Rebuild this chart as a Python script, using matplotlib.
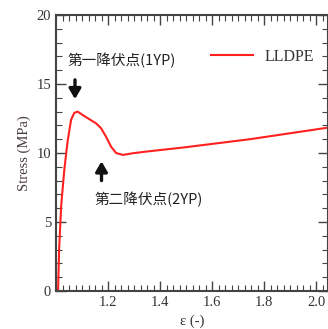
import matplotlib
matplotlib.use("Agg")
import matplotlib.pyplot as plt
from matplotlib.ticker import MultipleLocator

# strain / stress
strain = [1.008, 1.012, 1.020, 1.032, 1.045, 1.058, 1.070, 1.083, 1.103, 1.128,
          1.154, 1.173, 1.192, 1.212, 1.231, 1.257, 1.295, 1.346, 1.49, 1.746, 2.05]
stress = [0.0, 3.0, 6.2, 8.8, 10.9, 12.4, 12.9, 13.0, 12.75, 12.45,
          12.15, 11.8, 11.2, 10.45, 10.0, 9.86, 9.98, 10.1, 10.4, 11.0, 11.85]
series_name = "LLDPE"
label_1yp = "第一降伏点(1YP)"
label_2yp = "第二降伏点(2YP)"

serif = "Liberation Serif"
cjk = ["Noto Sans CJK JP", "DejaVu Sans"]

fig = plt.figure(figsize=(3.28, 3.29), dpi=100)
ax = fig.add_axes([56/328, 38/329, 1 - 56/328, 276/329])

ax.plot(strain, stress, color="#ff2020", lw=1.5, label=series_name)

ax.set_xlim(1.0, 2.046)
ax.set_ylim(0, 20)
ax.xaxis.set_major_locator(MultipleLocator(0.2))
ax.xaxis.set_minor_locator(MultipleLocator(0.025))
ax.yaxis.set_major_locator(MultipleLocator(5))
ax.yaxis.set_minor_locator(MultipleLocator(1))
ax.set_xticks([1.2, 1.4, 1.6, 1.8, 2.0])
ax.tick_params(which="both", direction="in", top=True, right=True, color="#444444")
ax.tick_params(which="major", length=7, width=1)
ax.tick_params(which="minor", length=4, width=0.8)
for lab in ax.get_xticklabels() + ax.get_yticklabels():
    lab.set_fontfamily(serif)
    lab.set_fontsize(10.5)
    lab.set_color("#333333")
for s in ax.spines.values():
    s.set_color("#444444")
    s.set_linewidth(1.5)

ax.set_ylabel("Stress (MPa)", fontfamily=serif, fontsize=10.5, color="#4a3c3c", labelpad=4)
ax.set_xlabel("ε (-)", fontfamily=serif, fontsize=10.5, color="#333333", labelpad=4)

leg = ax.legend(loc="upper right", bbox_to_anchor=(1.0, 0.93), frameon=False,
                prop={"family": serif, "size": 11.5}, handlelength=2.6, handletextpad=0.7)
for t in leg.get_texts():
    t.set_color("#333333")

ax.text(1.045, 16.7, label_1yp, fontfamily=cjk, fontsize=10.5, color="#222222",
        ha="left", va="center")
ax.text(1.148, 6.6, label_2yp, fontfamily=cjk, fontsize=10.5, color="#222222",
        ha="left", va="center")
ax.annotate("", xy=(1.073, 13.7), xytext=(1.073, 15.5),
            arrowprops=dict(arrowstyle="-|>,head_width=0.35,head_length=0.6",
                            color="#111111", lw=2.4))
ax.annotate("", xy=(1.175, 9.6), xytext=(1.175, 7.8),
            arrowprops=dict(arrowstyle="-|>,head_width=0.35,head_length=0.6",
                            color="#111111", lw=2.4))

fig.savefig("out.png", dpi=100)
